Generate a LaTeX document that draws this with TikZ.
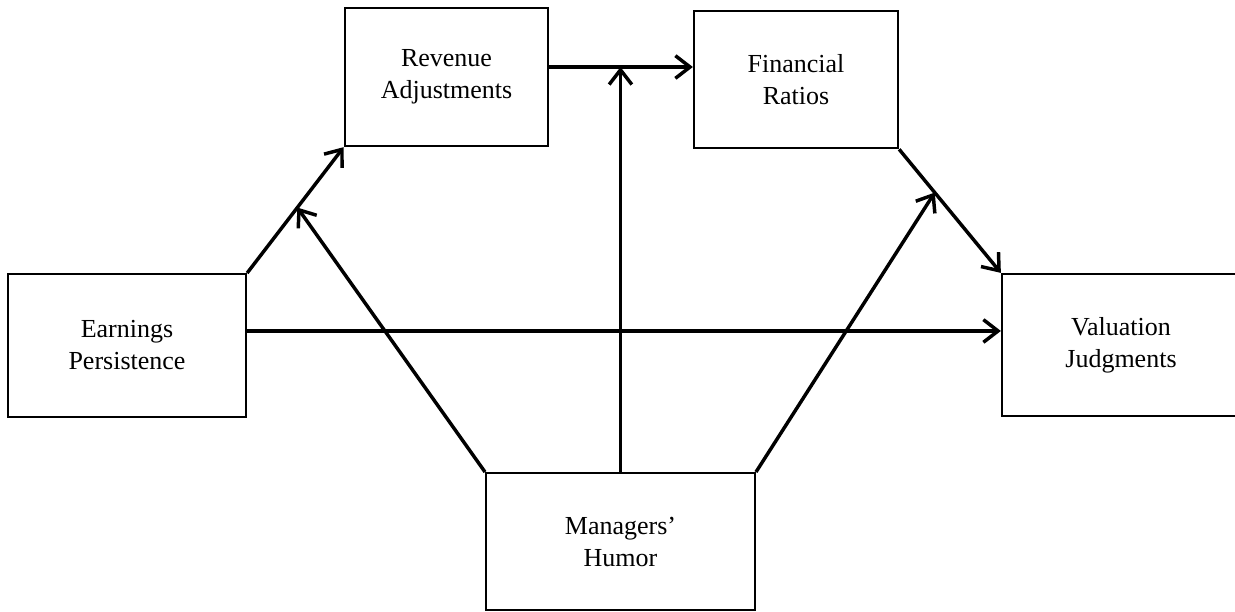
\documentclass[tikz,border=0pt]{standalone}
\usepackage{fontspec}
\setmainfont{Liberation Serif}
\usetikzlibrary{arrows.meta}
\begin{document}
\begin{tikzpicture}[x=0.75pt,y=-0.75pt,
  box/.style={draw, line width=1.7pt, align=center, inner sep=0pt,
    font=\fontsize{19.5}{24}\selectfont},
  arr/.style={line width=2.6pt, -{Straight Barb[length=11pt,width=17pt]}}]
\clip (0,0) rectangle (1235,611);
\node[box, minimum width=152.5pt, minimum height=103.5pt] (rev) at (446.5,77) {Revenue\\Adjustments};
\node[box, minimum width=153pt, minimum height=103pt] (fin) at (796,79.5) {Financial\\Ratios};
\node[box, minimum width=178.5pt, minimum height=107pt] (earn) at (127,345.5) {Earnings\\Persistence};
\node[box, minimum width=178.5pt, minimum height=106.5pt] (val) at (1121,345) {Valuation\\Judgments};
\node[box, minimum width=201.5pt, minimum height=102.5pt] (man) at (620.5,541.5) {Managers’\\Humor};
% Earnings -> Revenue
\draw[arr] (earn.north east) -- (rev.south west);
\path (earn.north east) -- (rev.south west) coordinate[pos=0.52] (m1);
% Revenue -> Financial
\coordinate (ra) at ([yshift=7.5pt]rev.east);
\draw[arr] (ra) -- (ra -| fin.west);
% Financial -> Valuation
\draw[arr] (fin.south east) -- (val.north west);
\path (fin.south east) -- (val.north west) coordinate[pos=0.35] (m2);
% Earnings -> Valuation
\coordinate (ea) at ([yshift=10.9pt]earn.east);
\draw[arr] (ea) -- (ea -| val.west);
% Managers moderating arrows
\draw[arr] (man.north west) -- (m1);
\draw[arr] (man.north) -- (man.north |- ra);
\draw[arr] (man.north east) -- (m2);
\end{tikzpicture}
\end{document}
